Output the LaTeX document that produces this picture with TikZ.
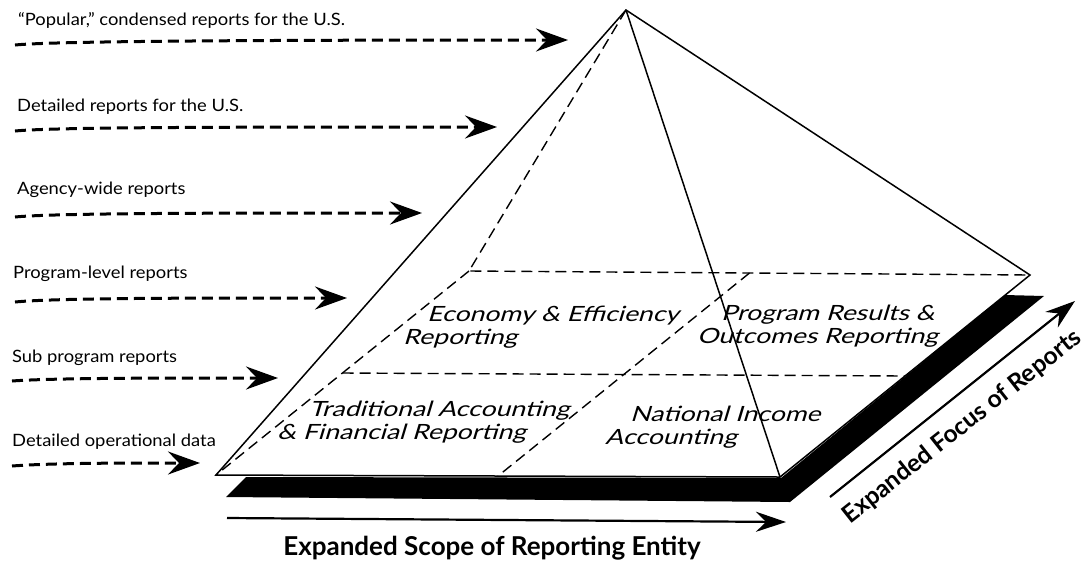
\documentclass[tikz,border=0pt]{standalone}
\usepackage{fontspec}
\setmainfont{Lato}
\newfontfamily\cellfont{Lato}[FakeSlant=0.3,FakeStretch=1.26]
\newfontfamily\levelfont{Lato}[FakeStretch=1.08]
\usetikzlibrary{arrows.meta,calc}

\tikzset{
  rim/.style={line width=1.5pt, line join=miter},
  hidden/.style={line width=1.4pt, dash pattern=on 11pt off 6pt},
  feed/.style={line width=3pt, dash pattern=on 11pt off 6pt,
    -{Stealth[length=32pt,width=23pt,inset=11pt]}},
  axis/.style={line width=2.2pt, -{Stealth[length=30pt,width=20pt,inset=10pt]}},
  level/.style={anchor=west, inner sep=0pt, font=\levelfont\fontsize{17}{20}\selectfont},
  cell/.style={anchor=west, align=left, inner sep=0pt,
    font=\cellfont\fontsize{21}{23}\selectfont},
  axislabel/.style={inner sep=0pt, font=\fontsize{26}{30}\selectfont\bfseries}
}

\begin{document}
\begin{tikzpicture}[x=1pt,y=-1pt]
\useasboundingbox (0,0) rectangle (1089,566);

% corners of the pyramid
\coordinate (apex) at (626,10);
\coordinate (fl) at (216,475);
\coordinate (fr) at (780,477);
\coordinate (br) at (1030,275);
\coordinate (bl) at (469,271);
\coordinate (midl) at ($(bl)!0.5!(fl)$);
\coordinate (midr) at ($(br)!0.5!(fr)$);
\coordinate (midb) at ($(bl)!0.5!(br)$);
\coordinate (midf) at ($(fl)!0.5!(fr)$);

% black slab under the base
\fill[black] (246,477) -- (781,478) -- (1005,295) -- (1044,296) -- (790,502) -- (226,497) -- cycle;

% hidden edges, base split in four
\draw[hidden] (apex) -- (bl) -- (br);
\draw[hidden] (bl) -- (fl);
\draw[hidden] (midl) -- (midr);
\draw[hidden] (midb) -- (midf);

% visible edges
\draw[rim] (fl) -- (apex) -- (br) -- (fr) -- cycle;
\draw[rim] (apex) -- (fr);

\node[cell] (econ) at (403,327) {\hspace*{24pt}Economy \& Efficiency\\Reporting};
\node[cell] (results) at (697,326) {\hspace*{24pt}Program Results \&\\Outcomes Reporting};
\node[cell] (trad) at (277,422) {\hspace*{32pt}Traditional Accounting\\\& Financial Reporting};
\node[cell] (natl) at (605,427) {\hspace*{25pt}National Income\\Accounting};

% levels of reporting
\node[level] (l1) at (18,20) {“Popular,” condensed reports for the U.S.};
\node[level] (l2) at (17,107) {Detailed reports for the U.S.};
\node[level] (l3) at (17,190) {Agency-wide reports};
\node[level] (l4) at (13,274) {Program-level reports};
\node[level] (l5) at (12,358) {Sub program reports};
\node[level] (l6) at (12,442) {Detailed operational data};

\coordinate (s1) at (15,45);  \coordinate (t1) at (568,40);
\coordinate (s2) at (15,131); \coordinate (t2) at (497,127);
\coordinate (s3) at (15,217); \coordinate (t3) at (422,213);
\coordinate (s4) at (15,302); \coordinate (t4) at (347,298);
\coordinate (s5) at (12,381); \coordinate (t5) at (278,378);
\coordinate (s6) at (12,466); \coordinate (t6) at (200,463);
\draw[feed] (s1) .. controls +(40,-4) and +(-300,0) .. (t1);
\draw[feed] (s2) .. controls +(40,-4) and +(-250,0) .. (t2);
\draw[feed] (s3) .. controls +(40,-4) and +(-200,0) .. (t3);
\draw[feed] (s4) .. controls +(40,-4) and +(-160,0) .. (t4);
\draw[feed] (s5) .. controls +(40,-3) and +(-120,0) .. (t5);
\draw[feed] (s6) .. controls +(40,-3) and +(-80,0) .. (t6);

% the two axes
\coordinate (sa) at (227,518); \coordinate (sb) at (786,522);
\draw[axis] (sa) -- (sb);
\node[axislabel, anchor=base] (scope) at (492,555) {Expanded Scope of Reporting Entity};

\coordinate (fa) at (830,497); \coordinate (fb) at (1075,301);
\draw[axis] (fa) -- (fb);
\node[axislabel, font=\fontsize{24.5}{30}\selectfont\bfseries, rotate=38.3] (focus) at (962,427) {Expanded Focus of Reports};
\end{tikzpicture}
\end{document}
